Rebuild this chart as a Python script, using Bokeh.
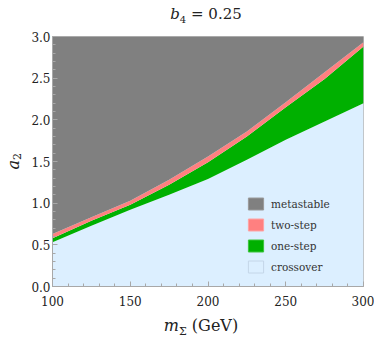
from bokeh.plotting import figure
from bokeh.models import Range1d, FixedTicker, Legend, LegendItem, ColumnDataSource, NumeralTickFormatter, Div
from bokeh.layouts import column, row
from bokeh.embed import file_html
from bokeh.resources import INLINE

# data
m_sigma = [100, 125, 150, 175, 200, 225, 250, 275, 300]
crossover_top = [0.53, 0.73, 0.92, 1.10, 1.29, 1.52, 1.76, 1.98, 2.20]
onestep_top = [0.58, 0.79, 0.98, 1.22, 1.49, 1.80, 2.15, 2.49, 2.88]
twostep_top = [0.63, 0.83, 1.03, 1.28, 1.56, 1.86, 2.21, 2.57, 2.93]
y_max = 3.0
x_ticks = [100, 150, 200, 250, 300]
y_ticks = [0.0, 0.5, 1.0, 1.5, 2.0, 2.5, 3.0]
labels = ["metastable", "two-step", "one-step", "crossover"]

fills = {"metastable": "#808080", "two-step": "#ff8080", "one-step": "#00b000", "crossover": "#dcefff"}
edges = {"metastable": "#9a9a9a", "two-step": "#ffa3a3", "one-step": "#3cc43c", "crossover": "#c4d6e8"}

src = ColumnDataSource(dict(x=m_sigma, c=crossover_top, o=onestep_top, t=twostep_top,
                            zero=[0.0] * len(m_sigma), top=[y_max] * len(m_sigma)))

SERIF = "DejaVu Serif"

p = figure(width=346, height=284, output_backend="svg", toolbar_location=None,
           x_range=Range1d(100, 300), y_range=Range1d(0, 3),
           min_border_left=22, min_border_right=11, min_border_top=8, min_border_bottom=26,
           margin=0)
p.grid.visible = False
p.outline_line_color = "#b8b8b8"

p.varea(x="x", y1="zero", y2="c", source=src, fill_color=fills["crossover"])
p.varea(x="x", y1="c", y2="o", source=src, fill_color=fills["one-step"])
p.varea(x="x", y1="o", y2="t", source=src, fill_color=fills["two-step"])
p.varea(x="x", y1="t", y2="top", source=src, fill_color=fills["metastable"])

# legend swatches (nothing drawn in the plot, only the legend glyphs)
nan = float("nan")
swatches = {}
for lab in labels:
    swatches[lab] = p.rect(x=[nan], y=[nan], width=1, height=1, fill_color=fills[lab], line_color=edges[lab])

for ax in (p.xaxis[0], p.yaxis[0]):
    ax.axis_line_color = "#a8a8a8"
    ax.major_tick_line_color = "#a8a8a8"
    ax.minor_tick_line_color = "#a8a8a8"
    ax.major_tick_in = 5
    ax.major_tick_out = 0
    ax.minor_tick_in = 3
    ax.minor_tick_out = 0
    ax.major_label_text_font = SERIF
    ax.major_label_text_font_size = "12px"
    ax.major_label_text_color = "#222222"

p.xaxis.ticker = FixedTicker(ticks=x_ticks, minor_ticks=list(range(100, 301, 10)))
p.yaxis.ticker = FixedTicker(ticks=y_ticks, minor_ticks=[i / 10 for i in range(0, 31)])
p.yaxis.formatter = NumeralTickFormatter(format="0.0")
p.xaxis.major_label_standoff = 9
p.yaxis.major_label_standoff = 2

legend = Legend(items=[LegendItem(label=lab, renderers=[swatches[lab]]) for lab in labels],
                location=(194, 12), border_line_color=None, background_fill_alpha=0,
                padding=0, margin=0, glyph_width=19, glyph_height=15, label_height=15,
                spacing=6, label_standoff=6, label_text_font=SERIF, label_text_font_size="10.5px",
                label_text_color="#333333")
p.add_layout(legend, "center")

FONT = "font-family:'DejaVu Serif',serif;font-size:15px;color:#222222;"

title_div = Div(width=374, height=28, margin=0,
                text=f"<div style=\"{FONT}width:336px;margin-left:38px;text-align:center;line-height:28px;white-space:nowrap\">"
                     "<i>b</i><sub style='font-size:10px'>4</sub> = 0.25</div>")
ylab_div = Div(width=28, height=284, margin=0,
               text=f"<div style=\"{FONT}font-size:16px;width:28px;height:266px;display:flex;align-items:center;justify-content:center\">"
                    "<span style='writing-mode:vertical-rl;transform:rotate(180deg);white-space:nowrap'>"
                    "<i>a</i><sub style='font-size:11px'>2</sub></span></div>")
xlab_div = Div(width=374, height=27, margin=0,
               text=f"<div style=\"{FONT}font-size:16px;width:346px;margin-left:28px;text-align:center;line-height:27px;white-space:nowrap\">"
                    "<i>m</i><sub style='font-size:11px'>\u03a3</sub> (GeV)</div>")

layout = column(title_div, row(ylab_div, p, margin=0), xlab_div, margin=0)

open("out.html", "w").write(file_html(layout, INLINE))
